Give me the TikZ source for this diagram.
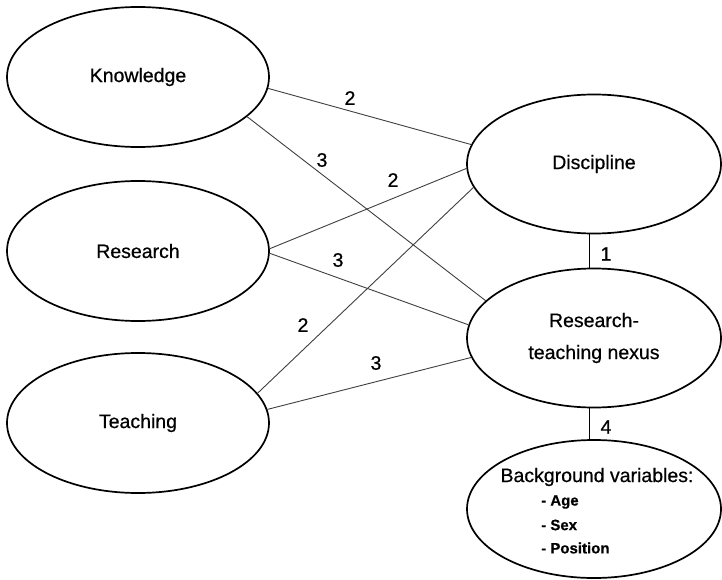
\documentclass[tikz,border=0pt]{standalone}
\usepackage{fontspec}
\setmainfont{Liberation Sans}[FakeBold=0.6]
\usetikzlibrary{shapes.geometric}
\begin{document}
\begin{tikzpicture}[x=1pt,y=-1pt,
  oval/.style={draw=black,line width=1.7pt,ellipse,inner sep=0pt,fill=white,
    font=\fontsize{19.5}{32}\selectfont\addfontfeature{FakeBold=0.6},align=center},
  leftoval/.style={oval,minimum width=262pt,minimum height=140pt},
  rightoval/.style={oval,minimum width=254pt,minimum height=139pt},
  conn/.style={draw=black!75,line width=0.9pt},
  vconn/.style={draw=black,line width=0.9pt},
  num/.style={font=\fontsize{19.5}{23}\selectfont\addfontfeature{FakeBold=0.6},inner sep=0pt},
  item/.style={font=\fontsize{15}{18}\selectfont\bfseries,inner sep=0pt,anchor=west}
]
\useasboundingbox (0,0) rectangle (722,580);
\fill[white] (0,0) rectangle (722,580);

\node[leftoval] (know) at (138,77) {Knowledge};
\node[leftoval] (res) at (138,251) {Research};
\node[leftoval] (teach) at (138,423) {Teaching};
\node[rightoval] (disc) at (594,164) {Discipline};
\node[rightoval] (nexus) at (594,338) {Research-\\teaching nexus};
\node[rightoval,minimum height=138pt] (bg) at (594,509) {};

\draw[conn] (know.-5) -- (disc.171);
\draw[conn] (know.-20) -- (nexus.161);
\draw[conn] (res.1) -- (disc.-178);
\draw[conn] (res.-1) -- (nexus.174.6);
\draw[conn] (teach.14.5) -- (disc.-169);
\draw[conn] (teach.6) -- (nexus.-171);
\draw[vconn] ([xshift=-5pt]disc.south) -- ([xshift=-5pt]nexus.north);
\draw[vconn] ([xshift=-5pt]nexus.south) -- ([xshift=-5pt]bg.north);

\node[num] (n1) at (350,98) {2};
\node[num] (n2) at (322,160) {3};
\node[num] (n3) at (393,180) {2};
\node[num] (n4) at (338,260) {3};
\node[num] (n5) at (303,325) {2};
\node[num] (n6) at (376,363) {3};
\node[num] (n7) at (606,254) {1};
\node[num] (n8) at (606,427) {4};

\node[num] (bgt) at (597,477) {Background variables:};
\node[item] (bga) at (541,502) {- Age};
\node[item] (bgs) at (541,525) {- Sex};
\node[item] (bgp) at (541,548) {- Position};
\end{tikzpicture}
\end{document}
